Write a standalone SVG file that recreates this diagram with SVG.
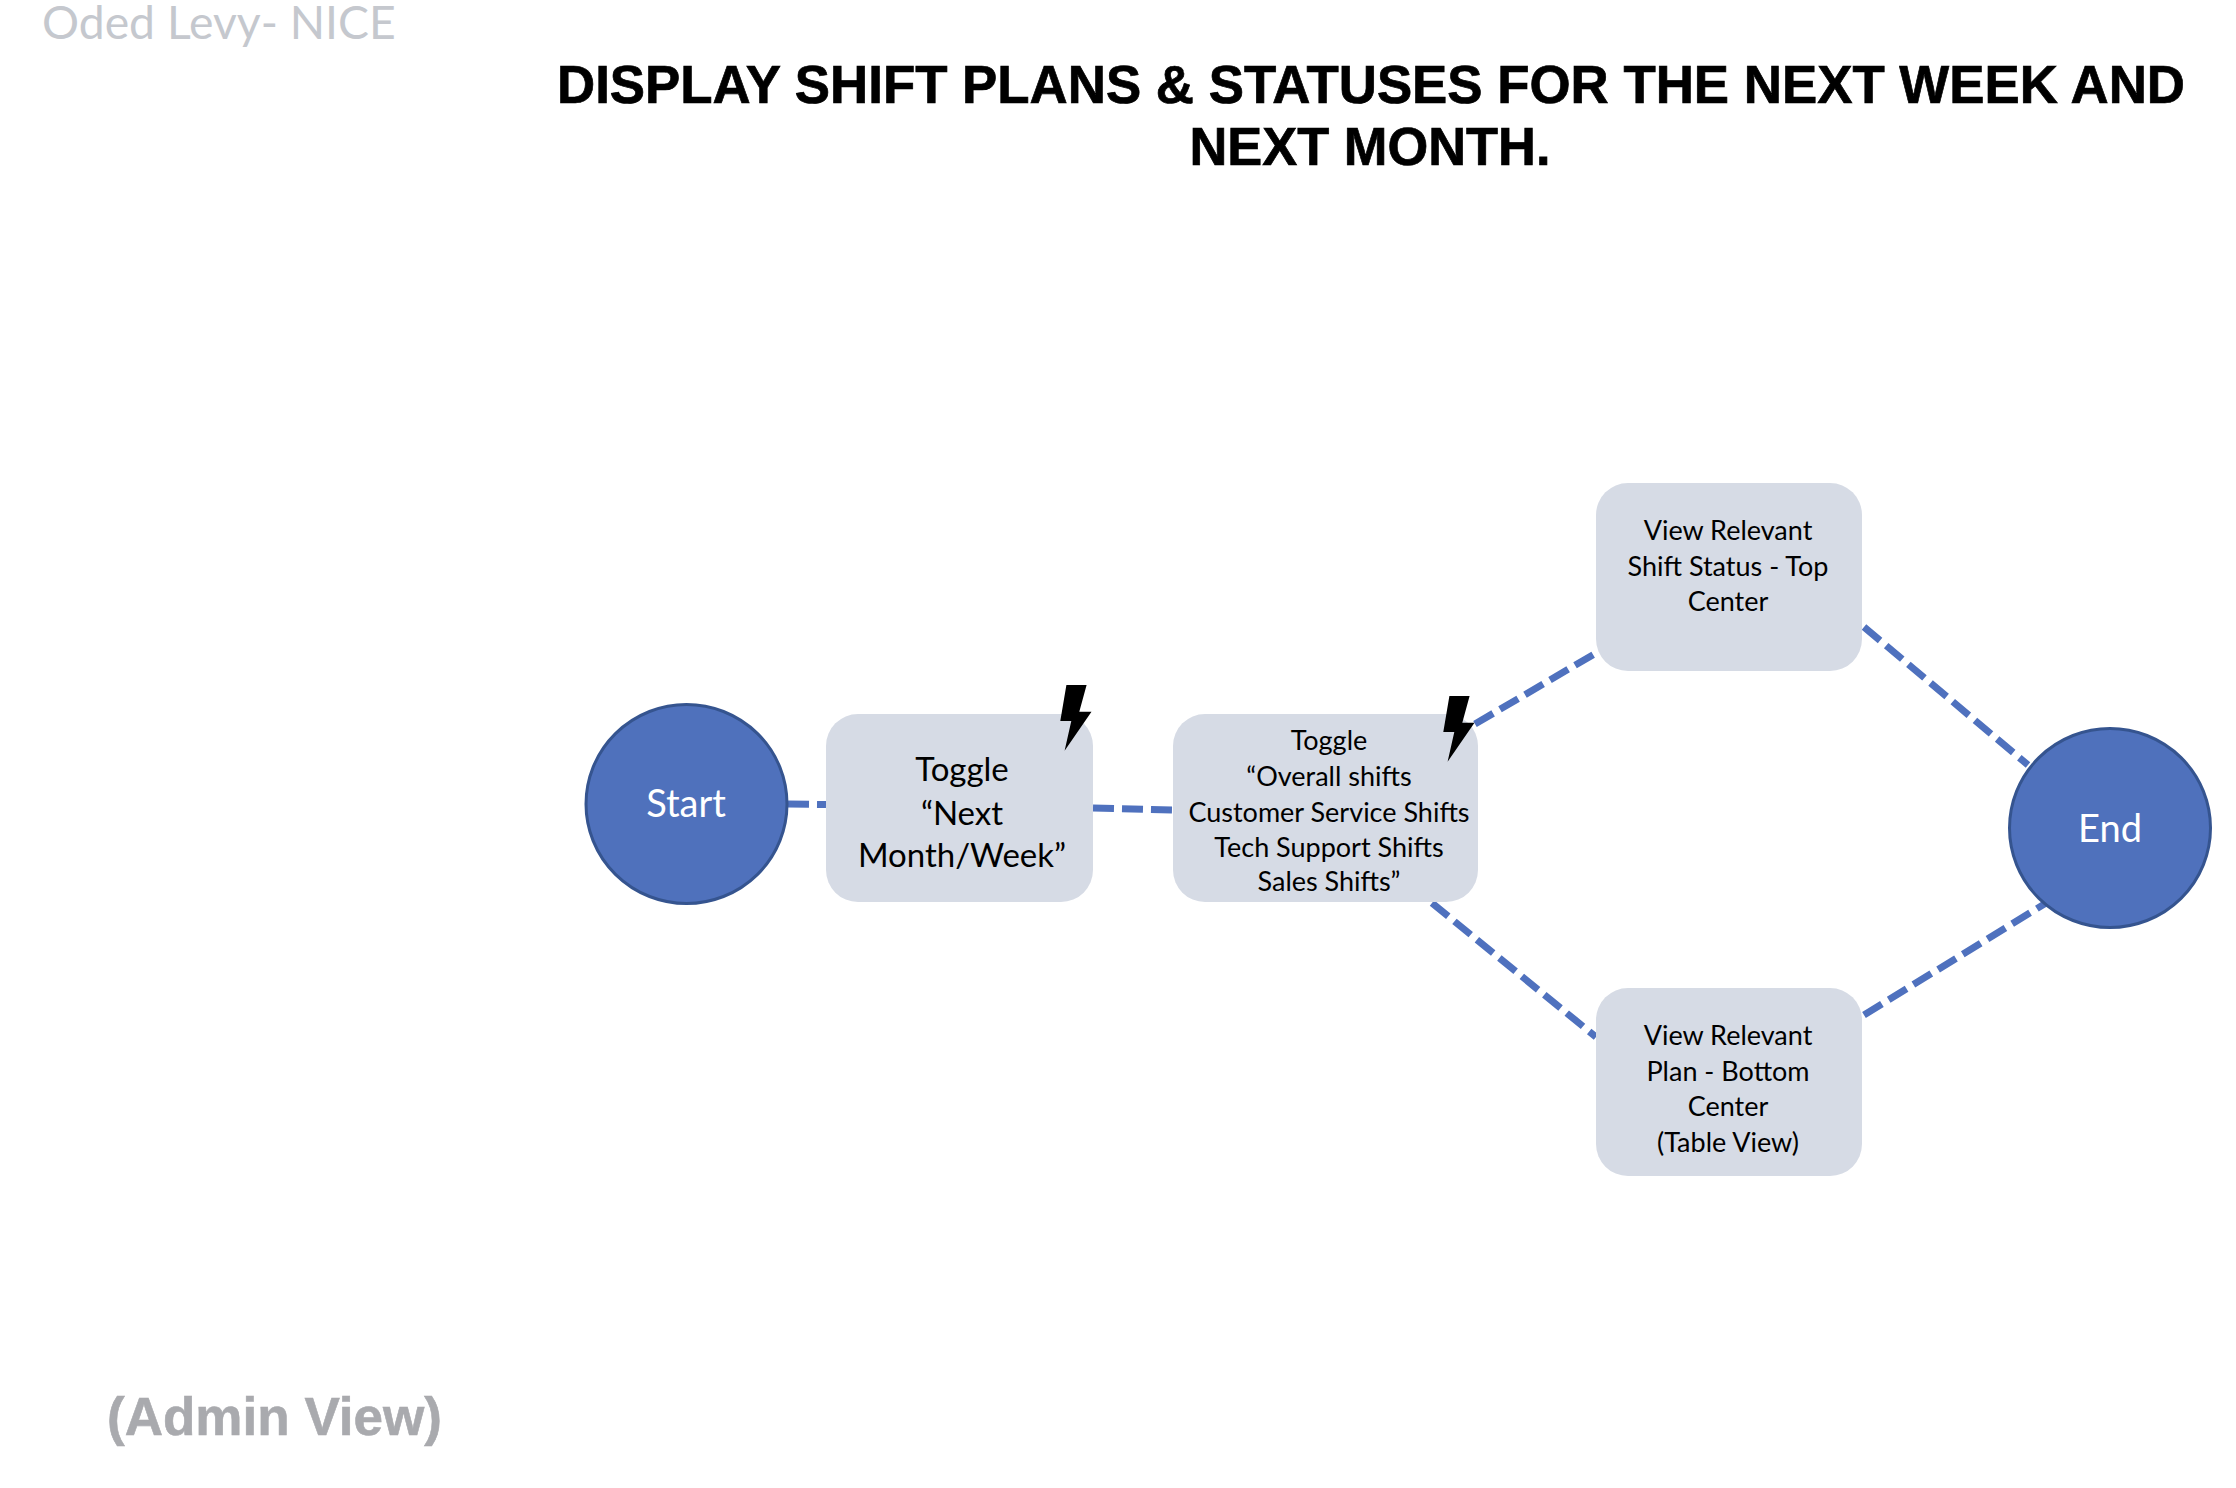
<svg xmlns="http://www.w3.org/2000/svg" width="2236" height="1488" viewBox="0 0 2236 1488">
<style>
.conn{fill:none;stroke:#4f71be;stroke-width:7;stroke-dasharray:21 8}
.box{fill:#d6dbe5}
.circ{fill:#4f71bc;stroke:#35548f;stroke-width:3}
.t{font-family:"Lato","Liberation Sans",sans-serif;text-anchor:middle;fill:#000}
.b{font-size:33px}
.s{font-size:27px}
.w{font-size:38px;fill:#fff}
.h{font-family:"Liberation Sans",Arial,sans-serif;font-weight:700}
.bolt{fill:#000}
</style>
<defs><polygon id="bolt" points="1066.4,685 1086.6,685 1079.3,711.7 1091.5,711.7 1064.6,750.7 1071.3,721 1060.3,721"/></defs>
<rect width="2236" height="1488" fill="#fff"/>
<text x="42" y="39" font-family="Lato,'Liberation Sans',sans-serif" font-size="46.3" fill="#c5c8ce">Oded Levy- NICE</text>
<g id="title" class="h" font-size="54" text-anchor="middle" fill="#000" stroke="#000" stroke-width="0.7">
<text x="1371" y="103" textLength="1628" lengthAdjust="spacingAndGlyphs">DISPLAY SHIFT PLANS &amp; STATUSES FOR THE NEXT WEEK AND</text>
<text x="1370" y="165" textLength="361" lengthAdjust="spacingAndGlyphs">NEXT MONTH.</text>
</g>
<text class="h" x="107" y="1435" font-size="54" fill="#a9aaae" stroke="#a9aaae" stroke-width="0.6" textLength="335" lengthAdjust="spacingAndGlyphs">(Admin View)</text>
<g id="connectors">
<line class="conn" x1="788" y1="804" x2="826" y2="804.5"/>
<line class="conn" x1="1093" y1="808" x2="1173" y2="810"/>
<line class="conn" x1="1475" y1="724" x2="1596" y2="653"/>
<line class="conn" x1="1864" y1="627" x2="2028" y2="765"/>
<line class="conn" x1="1432" y1="903" x2="1596" y2="1037"/>
<line class="conn" x1="1864" y1="1015" x2="2046" y2="903"/>
</g>
<g id="start"><ellipse class="circ" cx="686.5" cy="804" rx="100.5" ry="99.5"/><text class="t w" x="686" y="817">Start</text></g>
<g id="toggle-period"><rect class="box" x="826" y="714" width="267" height="188" rx="32"/>
<text class="t b" x="962" y="781">Toggle</text><text class="t b" x="962" y="825">“Next</text><text class="t b" x="962" y="867">Month/Week”</text>
<use href="#bolt" class="bolt"/></g>
<g id="toggle-shifts"><rect class="box" x="1173" y="714" width="305" height="188" rx="32"/>
<text class="t s" x="1329" y="750">Toggle</text><text class="t s" x="1329" y="786">“Overall shifts</text><text class="t s" x="1329" y="822">Customer Service Shifts</text><text class="t s" x="1329" y="857">Tech Support Shifts</text><text class="t s" x="1329" y="891">Sales Shifts”</text>
<use href="#bolt" class="bolt" transform="translate(383 11)"/></g>
<g id="view-status"><rect class="box" x="1596" y="483" width="266" height="188" rx="32"/>
<text class="t s" x="1728" y="540">View Relevant</text><text class="t s" x="1728" y="576">Shift Status - Top</text><text class="t s" x="1728" y="611">Center</text></g>
<g id="view-plan"><rect class="box" x="1596" y="988" width="266" height="188" rx="32"/>
<text class="t s" x="1728" y="1045">View Relevant</text><text class="t s" x="1728" y="1081">Plan - Bottom</text><text class="t s" x="1728" y="1116">Center</text><text class="t s" x="1728" y="1152">(Table View)</text></g>
<g id="end"><ellipse class="circ" cx="2110" cy="828" rx="100.5" ry="99.5"/><text class="t w" x="2110" y="842">End</text></g>
</svg>
